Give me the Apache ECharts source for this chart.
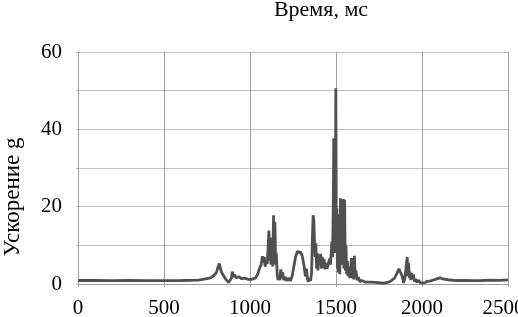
<!DOCTYPE html>
<html>
<head>
<meta charset="utf-8">
<script src="https://cdn.jsdelivr.net/npm/echarts@6/dist/echarts.min.js"></script>
<style>
html,body{margin:0;padding:0;background:#fff;}
#chart{width:518px;height:317px;}
</style>
</head>
<body>
<div id="chart"></div>
<script>
var titleText = 'Время, мс';
var yAxisTitle = 'Ускорение g';
var xTicks = [0, 500, 1000, 1500, 2000, 2500];
var yTicks = [0, 20, 40, 60];

var timeMs = [0,100,200,300,400,500,600,700,740,770,790,805,815,822,828,835,845,860,875,885,892,897,903,910,920,935,950,970,990,1010,1030,1045,1055,1065,1072,1078,1083,1088,1095,1100,1105,1110,1114,1118,1122,1127,1132,1137,1141,1145,1149,1153,1158,1163,1168,1173,1179,1184,1190,1196,1205,1215,1225,1235,1245,1255,1265,1275,1285,1295,1305,1315,1322,1328,1334,1340,1346,1352,1358,1363,1367,1371,1375,1379,1383,1387,1391,1395,1400,1405,1410,1415,1420,1425,1430,1436,1442,1448,1455,1462,1468,1472,1476,1480,1484,1487,1490,1493,1496,1499,1502,1505,1508,1511,1514,1518,1522,1526,1530,1534,1538,1542,1546,1550,1554,1558,1562,1566,1570,1575,1580,1585,1590,1594,1598,1603,1607,1611,1616,1622,1630,1638,1650,1670,1700,1730,1760,1780,1800,1820,1840,1855,1866,1875,1885,1893,1900,1908,1914,1918,1922,1926,1930,1935,1940,1945,1950,1956,1962,1970,1980,1990,2000,2015,2030,2050,2070,2090,2105,2120,2150,2200,2250,2300,2350,2400,2450,2500];
var accelG = [0.9,0.9,0.85,0.9,0.85,0.85,0.9,1.0,1.3,1.6,2.2,3.0,4.5,5.3,4.0,3.0,2.2,1.2,0.4,0.1,1.5,3.2,1.8,2.4,1.6,1.9,1.4,1.5,1.2,1.2,1.5,2.5,4.0,5.0,7.2,5.5,7.0,4.5,6.0,5.2,9.0,13.8,6.0,12.0,5.0,10.0,4.5,17.8,12.0,16.0,5.0,8.0,2.5,1.0,2.0,1.0,3.8,1.5,3.0,1.0,1.8,0.8,1.6,0.8,2.0,4.5,7.0,8.4,8.8,8.2,7.0,4.5,2.0,4.0,1.2,0.6,1.5,0.8,3.0,12.0,17.8,16.5,11.0,7.0,10.5,4.0,8.0,3.5,7.5,5.0,7.8,4.0,7.0,4.2,6.5,3.8,5.5,4.0,5.0,6.5,5.0,8.0,11.0,7.0,20.0,37.7,12.0,34.0,8.0,50.6,10.0,19.5,4.0,18.0,3.0,15.0,2.5,22.2,6.0,21.5,5.0,22.0,4.0,21.8,3.5,10.0,2.5,6.0,2.0,4.5,1.5,3.5,6.7,1.5,4.0,1.2,7.3,2.0,3.5,1.0,1.8,0.6,0.9,0.5,0.5,0.4,0.3,0.2,0.4,0.8,1.5,2.8,3.9,3.5,2.0,0.3,1.5,4.5,7.0,2.0,5.5,1.5,3.2,1.0,2.8,1.2,2.5,0.6,1.3,0.4,1.0,0.3,0.6,0.3,0.7,0.8,1.1,1.4,1.6,1.3,1.1,0.9,0.9,0.85,0.9,1.0,0.95,1.05];

var seriesData = timeMs.map(function (t, i) { return [t, accelG[i]]; });
var serif = 'Liberation Serif';
var xMax = xTicks[xTicks.length - 1];

var chart = echarts.init(document.getElementById('chart'), null, {renderer: 'canvas'});
chart.setOption({
  animation: false,
  backgroundColor: '#ffffff',
  grid: {left: 78, top: 52, right: 10, bottom: 33, containLabel: false, outerBoundsMode: 'none'},
  xAxis: {
    type: 'value',
    min: xTicks[0],
    max: xMax,
    interval: 500,
    axisLine: {show: true, lineStyle: {color: '#a0a0a0', width: 1}},
    axisTick: {show: true, length: 3, lineStyle: {color: '#a0a0a0'}},
    splitLine: {show: true, lineStyle: {color: '#a0a0a0', width: 1}},
    axisLabel: {
      color: '#000', fontFamily: serif, fontSize: 21, margin: 14,
      hideOverlap: false,
      formatter: function (v) { return v === xMax ? '{last|' + v + '}' : String(v); },
      rich: {last: {fontFamily: serif, fontSize: 21, color: '#000', padding: [0, 9, 0, 0]}}
    }
  },
  yAxis: {
    type: 'value',
    min: 0,
    max: yTicks[yTicks.length - 1],
    interval: 10,
    axisLine: {show: true, lineStyle: {color: '#a0a0a0', width: 1}},
    axisTick: {show: true, length: 2, lineStyle: {color: '#b8b8b8'}},
    splitLine: {show: true, lineStyle: {color: '#c0c0c0', width: 1}},
    axisLabel: {
      color: '#000', fontFamily: serif, fontSize: 21, margin: 16,
      formatter: function (v) { return yTicks.indexOf(v) >= 0 ? String(v) : ''; }
    }
  },
  graphic: [
    {type: 'text', x: 321, y: 10, style: {text: titleText, fontFamily: serif, fontSize: 22, fill: '#000', align: 'center', verticalAlign: 'middle'}},
    {type: 'text', x: 13, y: 197, rotation: Math.PI / 2, style: {text: yAxisTitle, fontFamily: serif, fontSize: 23, fill: '#000', align: 'center', verticalAlign: 'middle'}}
  ],
  series: [{
    type: 'line',
    data: seriesData,
    showSymbol: false,
    symbol: 'none',
    lineStyle: {color: '#505050', width: 2.8},
    silent: true
  }]
});
</script>
</body>
</html>
